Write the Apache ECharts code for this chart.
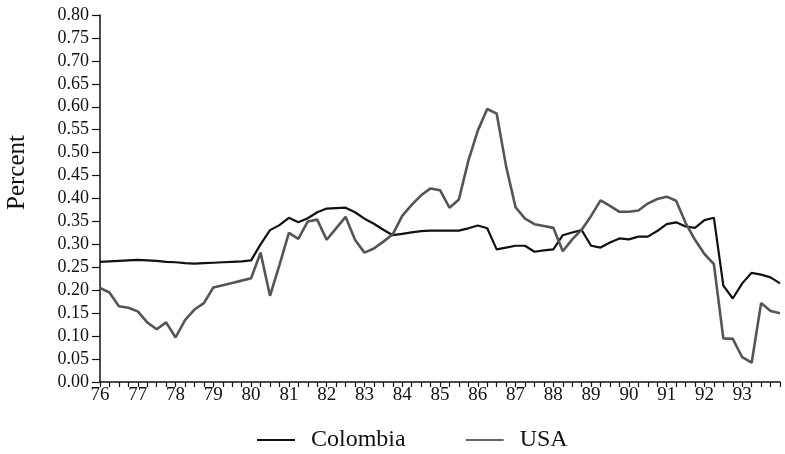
<!DOCTYPE html>
<html>
<head>
<meta charset="utf-8">
<script src="https://cdn.jsdelivr.net/npm/echarts@6/dist/echarts.min.js"></script>
<style>
html,body{margin:0;padding:0;background:#fff;}
#chart{width:785px;height:454px;}
</style>
</head>
<body>
<div id="chart"></div>
<script>
// Quarterly observations, 1976Q1 .. 1994Q1
var quarters = [];
for (var y = 1976; y <= 1994; y++) {
  for (var q = 1; q <= 4; q++) {
    if (y === 1994 && q > 1) break;
    quarters.push(y + 'Q' + q);
  }
}
var colombia = [
  0.262,0.263,0.264,0.265, 0.266,0.265,0.264,0.262,
  0.261,0.259,0.258,0.259, 0.260,0.261,0.262,0.263,
  0.265,0.300,0.331,0.342, 0.358,0.348,0.357,0.370,
  0.378,0.379,0.380,0.370, 0.356,0.345,0.332,0.320,
  0.323,0.326,0.329,0.330, 0.330,0.330,0.330,0.335,
  0.341,0.335,0.289,0.293, 0.297,0.297,0.284,0.287,
  0.289,0.320,0.326,0.331, 0.297,0.293,0.304,0.313,
  0.311,0.317,0.317,0.329, 0.344,0.348,0.339,0.336,
  0.353,0.358,0.210,0.182, 0.215,0.238,0.234,0.228,
  0.215
];
var usa = [
  0.205,0.195,0.165,0.162, 0.154,0.130,0.115,0.130,
  0.097,0.135,0.158,0.172, 0.206,0.211,0.216,0.221,
  0.226,0.282,0.188,0.255, 0.325,0.312,0.350,0.354,
  0.310,0.335,0.360,0.310, 0.282,0.291,0.306,0.322,
  0.362,0.386,0.407,0.422, 0.418,0.380,0.398,0.482,
  0.548,0.595,0.585,0.470, 0.381,0.356,0.344,0.340,
  0.336,0.285,0.311,0.332, 0.362,0.396,0.384,0.371,
  0.371,0.374,0.389,0.399, 0.404,0.395,0.347,0.310,
  0.279,0.257,0.095,0.094, 0.054,0.042,0.172,0.155,
  0.150
];
var yTicks = {min: 0, max: 0.8, step: 0.05};

var chart = echarts.init(document.getElementById('chart'), null, {renderer: 'canvas'});
var serif = 'Liberation Serif';
chart.setOption({
  backgroundColor: '#fff',
  animation: false,
  grid: {left: 100, right: 5, top: 15, bottom: 72},
  legend: {
    left: 252, top: 423,
    itemWidth: 38, itemHeight: 10, itemGap: 60,
    icon: 'path://M0,4 L38,4 L38,6 L0,6 Z',
    textStyle: {fontFamily: serif, fontSize: 24, color: '#111', padding: [0, 0, 0, 11]},
    data: [
      {name: 'Colombia', itemStyle: {color: '#111'}},
      {name: 'USA', itemStyle: {color: '#666'}}
    ]
  },
  graphic: [{
    type: 'text', left: 5, top: 135, rotation: Math.PI / 2,
    style: {text: 'Percent', fontFamily: serif, fontSize: 25, fill: '#111'}
  }],
  xAxis: {
    type: 'category', data: quarters, boundaryGap: false,
    axisLine: {show: true, lineStyle: {color: '#111', width: 1.5}},
    axisTick: {show: true, interval: 0, length: 5, inside: false, lineStyle: {color: '#111', width: 1.2}},
    axisLabel: {
      interval: 3, margin: 4, fontFamily: serif, fontSize: 19, color: '#111',
      formatter: function (v) { return v.indexOf('1994') === 0 ? '' : v.slice(2, 4); }
    },
    splitLine: {show: false}
  },
  yAxis: {
    type: 'value', min: yTicks.min, max: yTicks.max, interval: yTicks.step,
    axisLine: {show: true, lineStyle: {color: '#111', width: 1.5}},
    axisTick: {show: true, length: 8, lineStyle: {color: '#111', width: 1.2}},
    axisLabel: {margin: 11, fontFamily: serif, fontSize: 18, color: '#111',
      formatter: function (v) { return v.toFixed(2); }},
    splitLine: {show: false}
  },
  series: [
    {name: 'Colombia', type: 'line', data: colombia, symbol: 'none',
      lineStyle: {color: '#111', width: 2.2}, itemStyle: {color: '#111'}},
    {name: 'USA', type: 'line', data: usa, symbol: 'none',
      lineStyle: {color: '#555', width: 2.6}, itemStyle: {color: '#666'}}
  ]
});
</script>
</body>
</html>
